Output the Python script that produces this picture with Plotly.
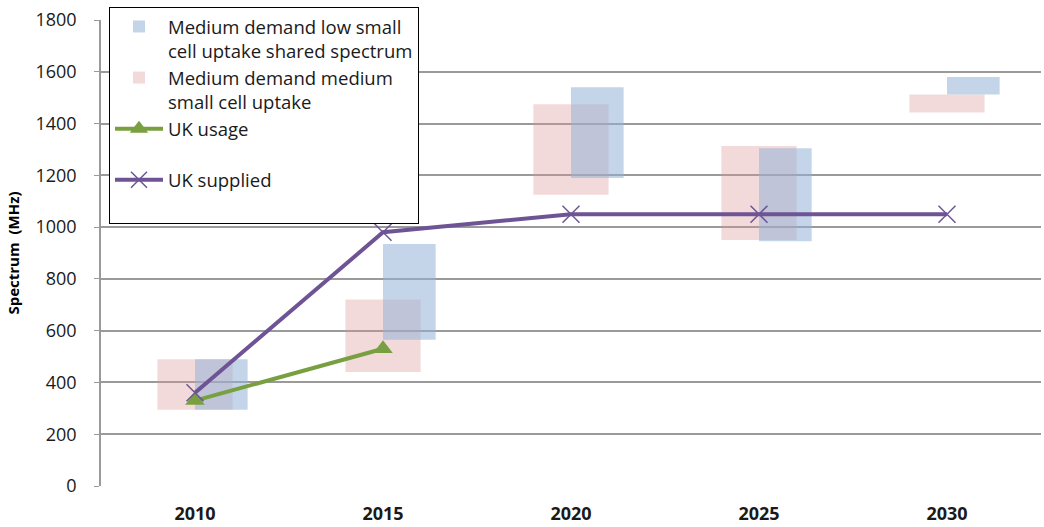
import plotly.graph_objects as go

# Spectrum demand scenarios vs UK usage / supply (MHz)
years = ["2010", "2015", "2020", "2025", "2030"]

shared_low = [295, 565, 1190, 945, 1512]
shared_high = [490, 935, 1540, 1305, 1580]

medium_low = [295, 440, 1125, 950, 1443]
medium_high = [490, 720, 1475, 1313, 1512]

uk_usage = [330, 530, None, None, None]
uk_supplied = [360, 980, 1050, 1050, 1050]

y_ticks = [0, 200, 400, 600, 800, 1000, 1200, 1400, 1600, 1800]

FONT = "Open Sans"

fig = go.Figure()

# Floating range bars: pink centred on the year, blue starting at the year
fig.add_trace(go.Bar(
    x=years,
    y=[h - l for l, h in zip(medium_low, medium_high)],
    base=medium_low,
    width=0.4,
    offset=-0.2,
    marker=dict(color="rgba(217,150,148,0.35)", line=dict(width=0)),
    name="Medium demand medium<br>small cell uptake",
    legendrank=2,
))
fig.add_trace(go.Bar(
    x=years,
    y=[h - l for l, h in zip(shared_low, shared_high)],
    base=shared_low,
    width=0.28,
    offset=0.0,
    marker=dict(color="rgba(149,179,215,0.55)", line=dict(width=0)),
    name="Medium demand low small<br>cell uptake shared spectrum",
    legendrank=1,
))

fig.add_trace(go.Scatter(
    x=years, y=uk_usage,
    mode="lines+markers",
    line=dict(color="#78A040", width=4),
    marker=dict(symbol="triangle-up", size=17, color="#78A040"),
    name="UK usage<br>\u00a0",
    legendrank=3,
))
fig.add_trace(go.Scatter(
    x=years, y=uk_supplied,
    mode="lines+markers",
    line=dict(color="#6E5495", width=4),
    marker=dict(symbol="x-thin", size=17,
                line=dict(color="#6E5495", width=1.5)),
    name="UK supplied<br>\u00a0",
    legendrank=4,
))

fig.update_layout(
    width=1044, height=527,
    margin=dict(l=101, r=3, t=20, b=41, autoexpand=False),
    paper_bgcolor="white",
    plot_bgcolor="white",
    barmode="overlay",
    font=dict(family=FONT, size=18, color="#1a1a1a"),
    legend=dict(
        x=0.0085, y=1.028, xanchor="left", yanchor="top",
        bgcolor="white", bordercolor="black", borderwidth=1,
        font=dict(family=FONT, size=18.5, color="#1a1a1a"),
        valign="top",
        itemwidth=48,
        traceorder="normal",
    ),
    xaxis=dict(
        type="category",
        showgrid=False,
        showline=False,
        ticks="",
        automargin=False,
        tickfont=dict(family=FONT, size=18, color="#1a1a1a", weight="bold"),
        ticklabelstandoff=15,
    ),
    yaxis=dict(
        range=[0, 1800],
        tickvals=y_ticks,
        showgrid=True,
        gridcolor="#9a9a9a",
        gridwidth=1.5,
        showline=True,
        linecolor="#9a9a9a",
        linewidth=1.5,
        ticks="outside",
        ticklen=5,
        tickcolor="#9a9a9a",
        automargin=False,
        tickfont=dict(family=FONT, size=18, color="#1a1a1a"),
        ticklabelstandoff=14,
        zeroline=False,
        title=dict(text="Spectrum  (MHz)",
                   font=dict(family=FONT, size=15, color="black", weight="bold"),
                   standoff=12),
    ),
)

fig.write_html("out.html")
